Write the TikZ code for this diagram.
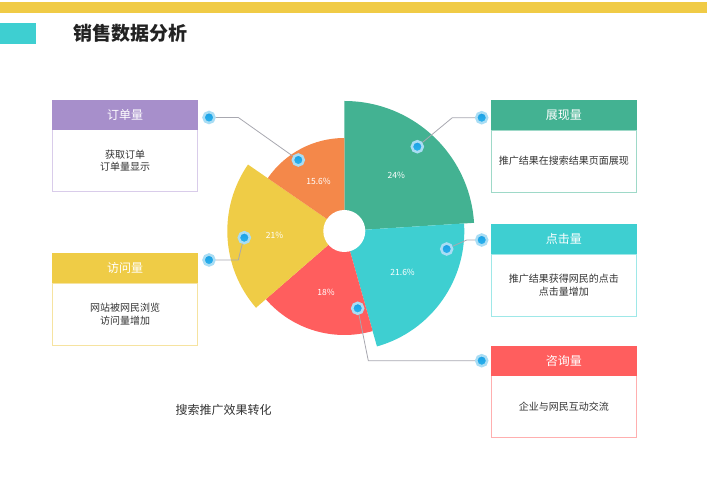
\documentclass[tikz,border=0pt]{standalone}
\usepackage{fontspec}
\setmainfont{Noto Sans CJK SC}
\usepackage{tikz}
\usetikzlibrary{positioning}
\definecolor{baryellow}{HTML}{F0CB46}
\definecolor{barteal}{HTML}{3ECFD1}
\definecolor{pgreen}{HTML}{43B292}
\definecolor{pcyan}{HTML}{3ECFD1}
\definecolor{pred}{HTML}{FF5E5E}
\definecolor{pyellow}{HTML}{EFCC46}
\definecolor{porange}{HTML}{F4884A}
\definecolor{ppurple}{HTML}{A78FCB}
\definecolor{lpurple}{HTML}{D9CCEA}
\definecolor{lyellow}{HTML}{F6E3A0}
\definecolor{lgreen}{HTML}{9ED9C8}
\definecolor{lcyan}{HTML}{9EE8E8}
\definecolor{lred}{HTML}{FFAFAF}
\definecolor{linegray}{HTML}{A8A8B0}
\definecolor{dotblue}{HTML}{1A9FE4}
\definecolor{dotlight}{HTML}{2EB4EE}
\definecolor{dothalo}{HTML}{A9DDF4}
\definecolor{textgray}{HTML}{333333}
\definecolor{titlegray}{HTML}{222222}

\begin{document}
\begin{tikzpicture}[x=1pt, y=1pt,
		head/.style={rectangle, fill=#1, draw=#1, minimum width=145pt, minimum height=29pt, inner sep=0pt, text=white, font=\fontsize{12}{14}\selectfont},
		body/.style={rectangle, draw=#1, fill=white, line width=0.8pt, minimum width=145pt, minimum height=62pt, inner sep=0pt, align=center, text=textgray, font=\fontsize{10}{12.7}\selectfont},
		dot/.style={circle, top color=dotblue, bottom color=dotlight, draw=dothalo, line width=2.5pt, minimum size=11pt, inner sep=0pt},
		link/.style={draw=linegray, line width=0.8pt},
		pct/.style={text=white, font=\fontsize{8.5}{10}\selectfont}]
			\useasboundingbox (0,0) rectangle (707,500);
			\fill[baryellow] (0,486.7) rectangle (707,497.5);
			\fill[barteal] (0,456) rectangle (36,477);
			\node[anchor=west, text=titlegray, font=\fontsize{19}{22}\selectfont\bfseries] (t0) at (70,467) {销售数据分析};
			
			\coordinate (c) at (344.3,269);
			\fill[pgreen] (c) -- ++(90:130) arc[start angle=90, end angle=3.6, radius=130] -- cycle;
			\fill[pcyan] (c) -- ++(3.6:120) arc[start angle=3.6, end angle=-74.2, radius=120] -- cycle;
			\fill[pred] (c) -- ++(-74.2:104) arc[start angle=-74.2, end angle=-139, radius=104] -- cycle;
			\fill[pyellow] (c) -- ++(-139:117) arc[start angle=-139, end angle=-214.6, radius=117] -- cycle;
			\fill[porange] (c) -- ++(145.4:93) arc[start angle=145.4, end angle=90, radius=93] -- cycle;
			\fill[white] (c) circle[radius=21];
			
			\node[pct] (l1) at ([shift={(46.8:76)}]c) {24\%};
			\node[pct] (l2) at ([shift={(-35.3:71.5)}]c) {21.6\%};
			\node[pct] (l3) at ([shift={(-106.6:64)}]c) {18\%};
			\node[pct] (l4) at ([shift={(184:70)}]c) {21\%};
			\node[pct] (l5) at ([shift={(117.4:56)}]c) {15.6\%};
			
			\node[body=lpurple] (b1) at (125,339.3) {获取订单\\订单量显示};
			\node[head=ppurple, above=0pt of b1] (h1) {订单量};
			\node[body=lyellow] (b2) at (125,185.7) {网站被网民浏览\\访问量增加};
			\node[head=pyellow, above=0pt of b2] (h2) {访问量};
			\node[body=lgreen] (b3) at (563.8,339) {推广结果在搜索结果页面展现};
			\node[head=pgreen, above=0pt of b3] (h3) {展现量};
			\node[body=lcyan] (b4) at (563.8,215) {推广结果获得网民的点击\\点击量增加};
			\node[head=pcyan, above=0pt of b4] (h4) {点击量};
			\node[body=lred] (b5) at (563.8,93.3) {企业与网民互动交流};
			\node[head=pred, above=0pt of b5] (h5) {咨询量};
			
			\node[dot] (p1) at (298.3,340) {};
			\node[dot] (p2) at (244.3,262.3) {};
			\node[dot] (p3) at (417.3,353.3) {};
			\node[dot] (p4) at (446.7,251) {};
			\node[dot] (p5) at (357.7,191.7) {};
			\node[dot] (o1) at (209,382.5) {};
			\node[dot] (o2) at (209,240) {};
			\node[dot] (o3) at (481.7,382.3) {};
			\node[dot] (o4) at (481.7,260) {};
			\node[dot] (o5) at (481.7,139.3) {};
			
			\draw[link] (o1) -- ++(29.3,0) -- (p1);
			\draw[link] (o2) -- ++(29.3,0) -- ++(4,16.3) -- (p2);
			\draw[link] (o3) -- ++(-29.4,0) -- (p3);
			\draw[link] (o4) -- ++(-15,0) -- (p4);
			\draw[link] (p5) -- (368.3,139.3) -- (o5);
			
			\node[text=textgray, font=\fontsize{12}{14}\selectfont] (s0) at (223.7,90) {搜索推广效果转化};
		\end{tikzpicture}
\end{document}
